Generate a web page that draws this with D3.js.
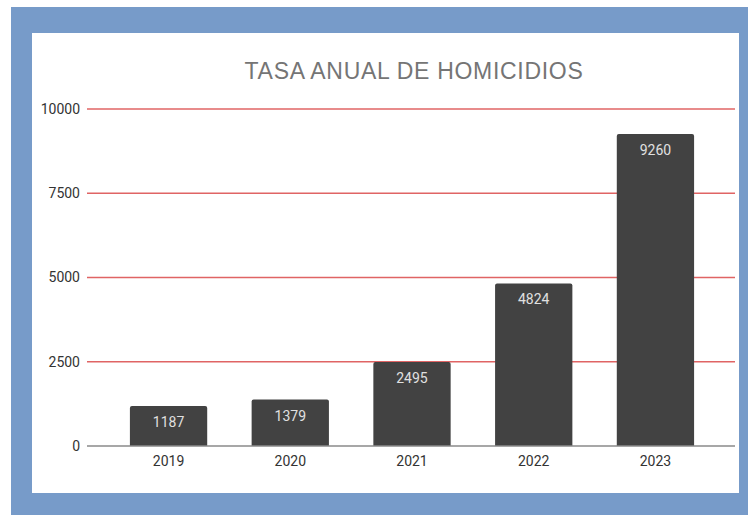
<!DOCTYPE html>
<html>
<head>
<meta charset="utf-8">
<script src="https://cdn.jsdelivr.net/npm/d3@7"></script>
<style>
  html, body { margin: 0; padding: 0; background: #fff; }
  svg { display: block; }
</style>
</head>
<body>
<div id="chart"></div>
<script>
// Data
const years = ["2019", "2020", "2021", "2022", "2023"];
const homicides = [1187, 1379, 2495, 4824, 9260];
const yTicks = [0, 2500, 5000, 7500, 10000];
const title = "TASA ANUAL DE HOMICIDIOS";

const width = 748;
const height = 515;

const svg = d3.select("#chart")
  .append("svg")
  .attr("width", width)
  .attr("height", height);

// Blue frame and white panel
svg.append("rect")
  .attr("x", 11).attr("y", 7)
  .attr("width", width - 11).attr("height", height - 7)
  .attr("fill", "#779bc9");
svg.append("rect")
  .attr("x", 32).attr("y", 33)
  .attr("width", 707).attr("height", 460)
  .attr("fill", "#fff");

// Scales
const x = d3.scaleBand().domain(years).range([108, 716]).paddingInner(0.365).paddingOuter(0.18);
const y = d3.scaleLinear().domain([0, 10000]).range([446, 109]);

// Title
svg.append("text")
  .attr("x", 414).attr("y", 79)
  .attr("text-anchor", "middle")
  .attr("font-family", "'Liberation Sans', Arial, sans-serif")
  .attr("font-size", 23)
  .attr("letter-spacing", 0.7)
  .attr("fill", "#757575")
  .text(title);

// Gridlines
svg.append("g")
  .selectAll("line")
  .data(yTicks.filter(d => d > 0))
  .join("line")
  .attr("x1", 87).attr("x2", 735)
  .attr("y1", d => y(d)).attr("y2", d => y(d))
  .attr("stroke", "#e06464")
  .attr("stroke-width", 1.3);

// Y axis labels
const yAxis = svg.append("g")
  .attr("transform", "translate(87,0)")
  .call(d3.axisLeft(y).tickValues(yTicks).tickSize(0).tickPadding(7).tickFormat(d3.format("d")));
yAxis.select(".domain").remove();
yAxis.selectAll("text")
  .attr("font-family", "Roboto, sans-serif")
  .attr("font-size", 14)
  .attr("fill", "#333");

// Bars with rounded top corners
const r = 2;
svg.append("g")
  .selectAll("path")
  .data(homicides)
  .join("path")
  .attr("d", (d, i) => {
    const x0 = x(years[i]), x1 = x0 + x.bandwidth();
    const yt = y(d), yb = y(0);
    return `M${x0},${yb}V${yt + r}Q${x0},${yt} ${x0 + r},${yt}H${x1 - r}Q${x1},${yt} ${x1},${yt + r}V${yb}Z`;
  })
  .attr("fill", "#424242");

// Value labels
svg.append("g")
  .selectAll("text")
  .data(homicides)
  .join("text")
  .attr("x", (d, i) => x(years[i]) + x.bandwidth() / 2)
  .attr("y", d => y(d) + 21)
  .attr("text-anchor", "middle")
  .attr("font-family", "Roboto, sans-serif")
  .attr("font-size", 14)
  .attr("fill", "#e0e0e0")
  .text(d => d);

// X axis
svg.append("line")
  .attr("x1", 87).attr("x2", 735)
  .attr("y1", y(0)).attr("y2", y(0))
  .attr("stroke", "#8a8a8a")
  .attr("stroke-width", 1.3);

const xAxis = svg.append("g")
  .attr("transform", `translate(0,${y(0)})`)
  .call(d3.axisBottom(x).tickSize(0).tickPadding(10));
xAxis.select(".domain").remove();
xAxis.selectAll("text")
  .attr("font-family", "Roboto, sans-serif")
  .attr("font-size", 14)
  .attr("fill", "#333");
</script>
</body>
</html>
